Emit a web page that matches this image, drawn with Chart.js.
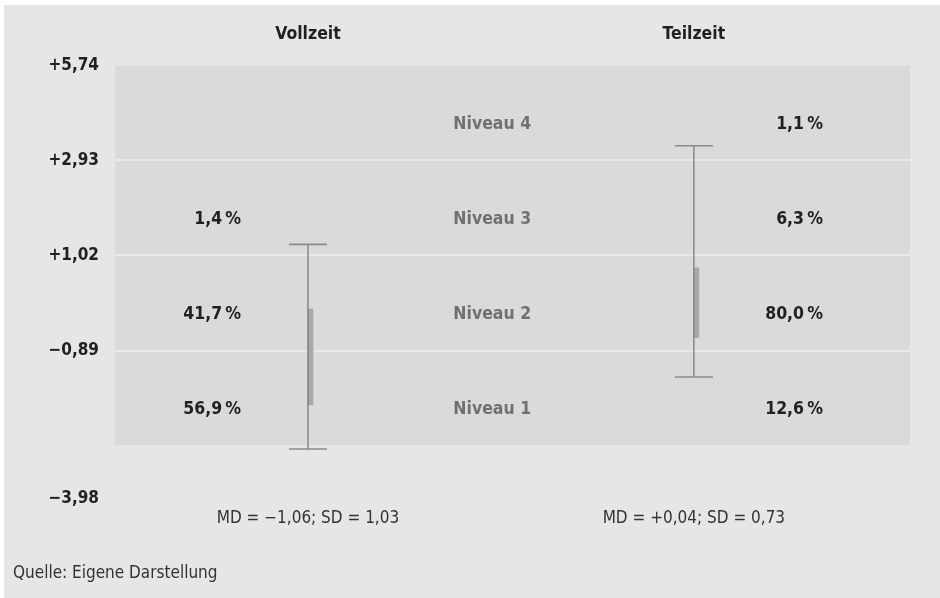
<!DOCTYPE html>
<html><head><meta charset="utf-8">
<script src="https://cdn.jsdelivr.net/npm/chart.js@4.4.1/dist/chart.umd.min.js"></script>
<style>
html,body{margin:0;padding:0;background:#fff;}
#wrap{position:absolute;left:4px;top:5px;width:936px;height:593px;background:#e5e6e8;}
canvas{display:block;}
</style></head><body>
<div id="wrap"><canvas id="c" width="936" height="593"></canvas></div>
<script>
// ---- data ----
const groups = ['Vollzeit', 'Teilzeit'];
const statLabels = ['MD = \u22121,06; SD = 1,03', 'MD = +0,04; SD = 0,73'];
const levels = ['Niveau 1', 'Niveau 2', 'Niveau 3', 'Niveau 4'];
const levelBounds = [-2.86, -0.89, 1.02, 2.93, 5.74];
const yTickValues = [-3.98, -0.89, 1.02, 2.93, 5.74];
const yTickLabels = ['\u22123,98', '\u22120,89', '+1,02', '+2,93', '+5,74'];
const shareVollzeit = [56.9, 41.7, 1.4, null];
const shareTeilzeit = [12.6, 80.0, 6.3, 1.1];
const whiskerLow = [-2.94, -1.44];
const whiskerHigh = [1.24, 3.36];
const sdLow = [-2.02, -0.63];
const sdHigh = [-0.06, 0.77];

// ---- layout / style ----
const FONT = "'DejaVu Sans Condensed', 'DejaVu Sans', sans-serif";
const Y_DECIMALS = [0, 0.3427, 0.5624, 0.7817, 1];
const gx = i => 1 + 2 * i;
const NIVEAU_X = 1.955;
const SHARE_OFFSET = [-0.347, 0.669];
const shares = [shareVollzeit, shareTeilzeit];
const fmt = v => v.toFixed(1).replace('.', ',') + '\u2009%';

class PiecewiseScale extends Chart.LinearScale {
  _dec(v) {
    const s = yTickValues, d = Y_DECIMALS, n = s.length - 1;
    if (v <= s[0]) return d[0] + (v - s[0]) * (d[1] - d[0]) / (s[1] - s[0]);
    for (let i = 1; i <= n; i++) {
      if (v <= s[i]) return d[i - 1] + (v - s[i - 1]) / (s[i] - s[i - 1]) * (d[i] - d[i - 1]);
    }
    return d[n] + (v - s[n]) * (d[n] - d[n - 1]) / (s[n] - s[n - 1]);
  }
  getPixelForValue(v) {
    if (v === null || v === undefined || isNaN(v)) return NaN;
    return this.getPixelForDecimal(this._dec(v));
  }
  getValueForPixel(p) {
    const dec = this.getDecimalForPixel(p);
    const s = yTickValues, d = Y_DECIMALS;
    for (let i = 1; i < s.length; i++) {
      if (dec <= d[i] || i === s.length - 1) return s[i - 1] + (dec - d[i - 1]) / (d[i] - d[i - 1]) * (s[i] - s[i - 1]);
    }
  }
}
PiecewiseScale.id = 'piecewise';
PiecewiseScale.defaults = Chart.LinearScale.defaults;
Chart.register(PiecewiseScale);

const levelPlugin = {
  id: 'levels',
  beforeDatasetsDraw(chart) {
    const {ctx, chartArea: a, scales: {x, y}} = chart;
    ctx.save();
    const top = y.getPixelForValue(levelBounds[levelBounds.length - 1]);
    const bot = y.getPixelForValue(levelBounds[0]);
    ctx.fillStyle = '#d9dadc';
    ctx.fillRect(a.left, top, a.right - a.left, bot - top);
    ctx.strokeStyle = '#e8e9eb';
    ctx.lineWidth = 2;
    for (let i = 1; i < levelBounds.length - 1; i++) {
      const py = Math.round(y.getPixelForValue(levelBounds[i]));
      ctx.beginPath(); ctx.moveTo(a.left, py); ctx.lineTo(a.right, py); ctx.stroke();
    }
    ctx.textBaseline = 'middle';
    ctx.font = 'bold 17.5px ' + FONT;
    levels.forEach((name, i) => {
      const t = y.getPixelForValue(levelBounds[i + 1]);
      const b = y.getPixelForValue(levelBounds[i]);
      const py = t + 0.62 * (b - t);
      ctx.fillStyle = '#6f7072';
      ctx.textAlign = 'center';
      ctx.fillText(name, x.getPixelForValue(NIVEAU_X), py);
      ctx.fillStyle = '#231f20';
      ctx.textAlign = 'right';
      shares.forEach((arr, g) => {
        if (arr[i] !== null) ctx.fillText(fmt(arr[i]), x.getPixelForValue(gx(g) + SHARE_OFFSET[g]), py);
      });
    });
    ctx.restore();
  }
};

const groupTicks = s => { s.ticks = groups.map((g, i) => ({value: gx(i)})); };
const noGrid = {display: false, drawTicks: false, tickLength: 0};

new Chart(document.getElementById('c'), {
  type: 'bar',
  data: {
    datasets: [
      {type: 'bar', data: groups.map((g, i) => ({x: gx(i), y: null})), backgroundColor: 'rgba(0,0,0,0)', barThickness: 5, order: 1},
      {type: 'bar', data: groups.map((g, i) => ({x: gx(i), y: [sdLow[i], sdHigh[i]]})), backgroundColor: '#a8a9ab', barThickness: 5, order: 2},
      ...groups.map((g, i) => ({
        type: 'line',
        data: [{x: gx(i), y: whiskerLow[i]}, {x: gx(i), y: whiskerHigh[i]}],
        borderColor: '#7b7b7b', borderWidth: 1.3,
        pointStyle: 'line', pointRadius: 19, pointHoverRadius: 19,
        pointBorderColor: '#8a8a8a', pointBorderWidth: 1.6,
        order: 0
      }))
    ]
  },
  options: {
    responsive: false,
    animation: false,
    layout: {padding: {left: 9, right: 30, top: 0, bottom: 13.8}},
    plugins: {
      legend: {display: false},
      tooltip: {enabled: false},
      title: {
        display: true, text: 'Quelle: Eigene Darstellung', position: 'bottom', align: 'start',
        color: '#333333', font: {family: FONT, size: 17, weight: 'normal'}, padding: {top: 0, bottom: 0}
      }
    },
    scales: {
      x: {
        type: 'linear', position: 'top', min: 0, max: 4.12, offset: false,
        grid: noGrid, border: {display: false},
        afterBuildTicks: groupTicks,
        afterFit: s => { s.height = 60.7; },
        ticks: {callback: (v, i) => groups[i], color: '#231f20', font: {family: FONT, size: 17.5, weight: 'bold'}, padding: 21, autoSkip: false, maxRotation: 0}
      },
      x2: {
        type: 'linear', position: 'bottom', min: 0, max: 4.12, offset: false,
        grid: noGrid, border: {display: false},
        afterBuildTicks: groupTicks,
        afterFit: s => { s.height = 64.8; },
        ticks: {callback: (v, i) => statLabels[i], color: '#333333', font: {family: FONT, size: 17, weight: 'normal'}, padding: 9.8, autoSkip: false, maxRotation: 0}
      },
      y: {
        type: 'piecewise', min: yTickValues[0], max: yTickValues[yTickValues.length - 1],
        grid: noGrid, border: {display: false},
        afterBuildTicks: s => { s.ticks = yTickValues.map(v => ({value: v})); },
        afterFit: s => { s.width = 102; },
        ticks: {callback: (v, i) => yTickLabels[i], color: '#231f20', font: {family: FONT, size: 17, weight: 'bold'}, padding: 16, autoSkip: false}
      }
    }
  },
  plugins: [levelPlugin]
});
</script>
</body></html>
